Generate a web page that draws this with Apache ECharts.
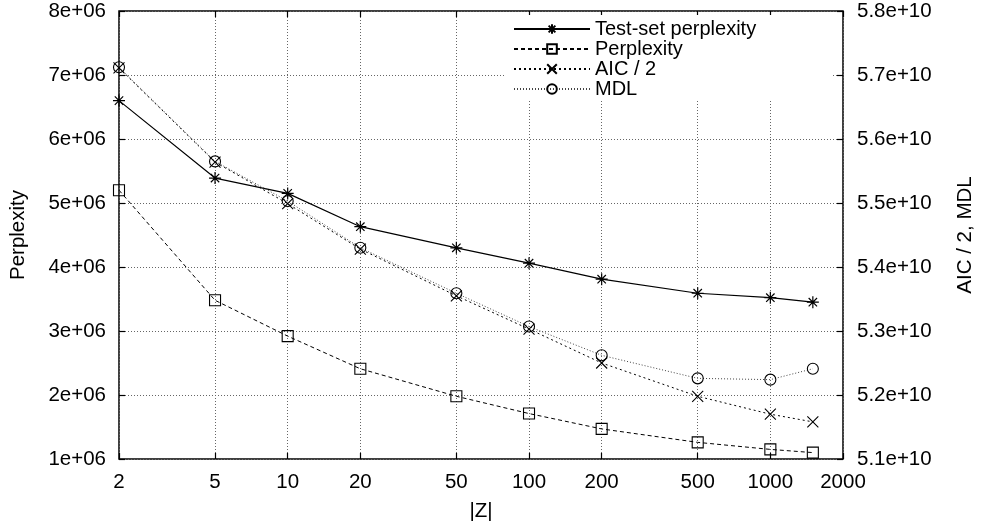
<!DOCTYPE html>
<html>
<head>
<meta charset="utf-8">
<script src="https://cdn.jsdelivr.net/npm/echarts@6/dist/echarts.min.js"></script>
<style>
html,body{margin:0;padding:0;background:#fff;}
#chart{width:984px;height:530px;}
</style>
</head>
<body>
<div id="chart"></div>
<script>
// ---- data ----
const zValues = [2, 5, 10, 20, 50, 100, 200, 500, 1000, 1500];
const testSetPerplexity = [6.6e6, 5.39e6, 5.15e6, 4.63e6, 4.30e6, 4.06e6, 3.81e6, 3.59e6, 3.52e6, 3.45e6];
const perplexity = [5.2e6, 3.48e6, 2.92e6, 2.41e6, 1.98e6, 1.71e6, 1.47e6, 1.26e6, 1.15e6, 1.10e6];
const aicHalf = [5.711e10, 5.564e10, 5.499e10, 5.428e10, 5.355e10, 5.303e10, 5.250e10, 5.198e10, 5.170e10, 5.158e10];
const mdl = [5.712e10, 5.565e10, 5.503e10, 5.430e10, 5.359e10, 5.307e10, 5.262e10, 5.226e10, 5.224e10, 5.241e10];
const xTicks = [2, 5, 10, 20, 50, 100, 200, 500, 1000, 2000];
const seriesNames = ['Test-set perplexity', 'Perplexity', 'AIC / 2', 'MDL'];

const FONT = 'Liberation Sans, Arial, Helvetica, sans-serif';
const pairs = (ys) => zValues.map((z, i) => [z, ys[i]]);

const STAR = 'path://M5,0L5,10M0,5L10,5M1.5,1.5L8.5,8.5M1.5,8.5L8.5,1.5';
const CROSS = 'path://M0,0L10,10M0,10L10,0';

const chart = echarts.init(document.getElementById('chart'), null, {renderer: 'canvas'});
const gridLine = {show: true, lineStyle: {color: '#666', type: [1, 2], width: 1}};
const tickStyle = {show: true, inside: true, length: 6, lineStyle: {color: '#000', width: 1.2}};

chart.setOption({
  animation: false,
  backgroundColor: '#fff',
  textStyle: {fontFamily: FONT},
  grid: {left: 118, right: 136, top: 11, bottom: 71, show: true, borderColor: '#000', borderWidth: 1.5, backgroundColor: 'transparent'},
  legend: {
    data: seriesNames,
    orient: 'vertical',
    left: 505, top: 15,
    padding: [4, 75, 0, 8],
    itemWidth: 76, itemHeight: 12, itemGap: 0,
    backgroundColor: '#fff',
    textStyle: {fontFamily: FONT, fontSize: 20, color: '#000', lineHeight: 20},
    z: 3
  },
  xAxis: [{
    type: 'log', logBase: 10, min: 2, max: 2000,
    name: '|Z|', nameLocation: 'middle', nameGap: 42,
    nameTextStyle: {fontFamily: FONT, fontSize: 20.5, color: '#000'},
    axisLine: {show: false},
    axisTick: Object.assign({customValues: xTicks}, tickStyle),
    axisLabel: {customValues: xTicks, fontFamily: FONT, fontSize: 20.5, color: '#000', margin: 13,
      showMinLabel: true, showMaxLabel: true, formatter: v => String(Math.round(v))},
    splitLine: gridLine,
    minorTick: {show: false}
  }, {
    type: 'log', logBase: 10, min: 2, max: 2000, position: 'top',
    axisLine: {show: false},
    axisTick: Object.assign({customValues: xTicks}, tickStyle),
    axisLabel: {show: false, customValues: xTicks},
    splitLine: {show: false}
  }],
  yAxis: [{
    type: 'value', min: 1e6, max: 8e6, interval: 1e6, position: 'left',
    name: 'Perplexity', nameLocation: 'middle', nameGap: 90, nameRotate: 90,
    nameTextStyle: {fontFamily: FONT, fontSize: 20.5, color: '#000'},
    axisLine: {show: false},
    axisTick: tickStyle,
    axisLabel: {fontFamily: FONT, fontSize: 20.5, color: '#000', margin: 13,
      formatter: v => Math.round(v / 1e6) + 'e+06'},
    splitLine: gridLine
  }, {
    type: 'value', min: 5.1e10, max: 5.8e10, interval: 1e9, position: 'right',
    name: 'AIC / 2, MDL', nameLocation: 'middle', nameGap: 112, nameRotate: 90,
    nameTextStyle: {fontFamily: FONT, fontSize: 20.5, color: '#000'},
    axisLine: {show: false},
    axisTick: tickStyle,
    axisLabel: {fontFamily: FONT, fontSize: 20.5, color: '#000', margin: 14,
      formatter: v => (v / 1e10).toFixed(1) + 'e+10'},
    splitLine: {show: false}
  }],
  series: [{
    name: seriesNames[0], type: 'line', xAxisIndex: 0, yAxisIndex: 0,
    data: pairs(testSetPerplexity),
    symbol: STAR, symbolSize: 12,
    itemStyle: {color: 'none', borderColor: '#000', borderWidth: 1.2},
    lineStyle: {color: '#000', width: 1.2, type: 'solid'}
  }, {
    name: seriesNames[1], type: 'line', xAxisIndex: 0, yAxisIndex: 0,
    data: pairs(perplexity),
    symbol: 'rect', symbolSize: 11,
    itemStyle: {color: 'none', borderColor: '#000', borderWidth: 1.1},
    lineStyle: {color: '#000', width: 1, type: [4, 3]}
  }, {
    name: seriesNames[2], type: 'line', xAxisIndex: 0, yAxisIndex: 1,
    data: pairs(aicHalf),
    symbol: CROSS, symbolSize: 11,
    itemStyle: {color: 'none', borderColor: '#000', borderWidth: 1.1},
    lineStyle: {color: '#000', width: 1, type: [2, 3]}
  }, {
    name: seriesNames[3], type: 'line', xAxisIndex: 0, yAxisIndex: 1,
    data: pairs(mdl),
    symbol: 'circle', symbolSize: 11,
    itemStyle: {color: 'none', borderColor: '#000', borderWidth: 1.1},
    lineStyle: {color: '#444', width: 1, type: [1, 2]}
  }]
});
</script>
</body>
</html>
